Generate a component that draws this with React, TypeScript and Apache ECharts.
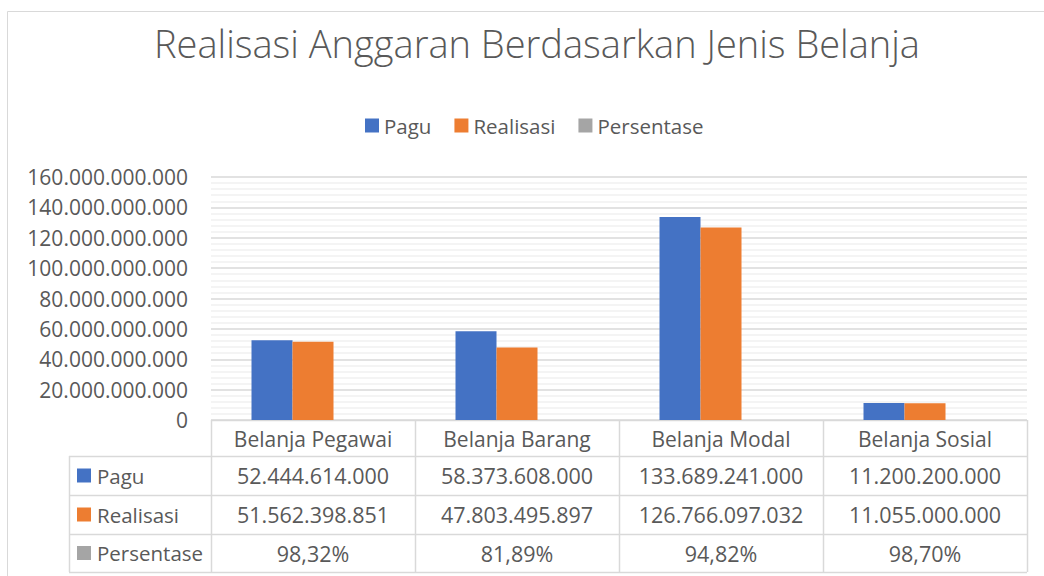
import React, { useEffect, useRef } from "react";
import * as echarts from "echarts";

const categories = ["Belanja Pegawai", "Belanja Barang", "Belanja Modal", "Belanja Sosial"];
const seriesNames = ["Pagu", "Realisasi", "Persentase"];
const pagu = [52444614000, 58373608000, 133689241000, 11200200000];
const realisasi = [51562398851, 47803495897, 126766097032, 11055000000];
const persentase = [0.9832, 0.8189, 0.9482, 0.987];
const colors = ["#4472C4", "#ED7D31", "#A5A5A5"];
const yMin = 0;
const yMax = 160000000000;
const yInterval = 20000000000;

const FONT = "'Open Sans', sans-serif";
const TEXT = "#595959";
const LINE = "#d9d9d9";

const GRID_LEFT = 211;
const GRID_TOP = 177;
const GRID_W = 816;
const GRID_H = 243;
const ROW_Y = [420, 456, 495, 534, 572];
const ROW_LEFT = 69;

function fmtNum(v: number): string {
  return Math.round(v).toString().replace(/\B(?=(\d{3})+(?!\d))/g, ".");
}
function fmtPct(v: number): string {
  return (v * 100).toFixed(2).replace(".", ",") + "%";
}

export default function App() {
  const ref = useRef<HTMLDivElement>(null);
  useEffect(() => {
    if (!ref.current) return;
    const chart = echarts.init(ref.current, undefined, { renderer: "svg" });
    const colW = GRID_W / categories.length;
    const g: any[] = [];
    g.push({
      type: "rect",
      shape: { x: 7.5, y: 11.5, width: 1200, height: 800 },
      style: { fill: "none", stroke: LINE, lineWidth: 1 },
      silent: true,
    });
    for (let r = 1; r < ROW_Y.length; r++) {
      g.push({
        type: "line",
        shape: { x1: ROW_LEFT, y1: ROW_Y[r] + 0.5, x2: GRID_LEFT + GRID_W, y2: ROW_Y[r] + 0.5 },
        style: { stroke: LINE, lineWidth: 1.5 },
        silent: true,
      });
    }
    g.push({
      type: "line",
      shape: { x1: GRID_LEFT, y1: ROW_Y[0] + 0.5, x2: GRID_LEFT + GRID_W, y2: ROW_Y[0] + 0.5 },
      style: { stroke: LINE, lineWidth: 1.5 },
      silent: true,
    });
    g.push({
      type: "line",
      shape: { x1: ROW_LEFT + 0.5, y1: ROW_Y[1], x2: ROW_LEFT + 0.5, y2: ROW_Y[4] },
      style: { stroke: LINE, lineWidth: 1.5 },
      silent: true,
    });
    for (let i = 0; i <= categories.length; i++) {
      const x = Math.round(GRID_LEFT + i * colW) + 0.5;
      g.push({
        type: "line",
        shape: { x1: x, y1: ROW_Y[0], x2: x, y2: ROW_Y[4] },
        style: { stroke: LINE, lineWidth: 1.5 },
        silent: true,
      });
    }
    const rowsData = [pagu.map(fmtNum), realisasi.map(fmtNum), persentase.map(fmtPct)];
    categories.forEach((c, i) => {
      const cx = GRID_LEFT + (i + 0.5) * colW;
      g.push({
        type: "text",
        x: cx,
        y: (ROW_Y[0] + ROW_Y[1]) / 2 + 1,
        style: { text: c, fill: TEXT, font: `21px ${FONT}`, align: "center", verticalAlign: "middle" },
        silent: true,
      });
      rowsData.forEach((row, r) => {
        g.push({
          type: "text",
          x: cx,
          y: (ROW_Y[r + 1] + ROW_Y[r + 2]) / 2,
          style: { text: row[i], fill: TEXT, font: `21.5px ${FONT}`, align: "center", verticalAlign: "middle" },
          silent: true,
        });
      });
    });
    seriesNames.forEach((n, r) => {
      const cy = (ROW_Y[r + 1] + ROW_Y[r + 2]) / 2;
      g.push({
        type: "rect",
        shape: { x: 77, y: cy - 7, width: 14, height: 14 },
        style: { fill: colors[r] },
        silent: true,
      });
      g.push({
        type: "text",
        x: 97,
        y: cy,
        style: { text: n, fill: TEXT, font: `20.5px ${FONT}`, align: "left", verticalAlign: "middle" },
        silent: true,
      });
    });

    chart.setOption({
      animation: false,
      color: colors,
      title: {
        text: "Realisasi Anggaran Berdasarkan Jenis Belanja",
        left: 149,
        top: 19,
        textStyle: { fontFamily: FONT, fontWeight: 300, fontSize: 38, color: TEXT },
      },
      legend: {
        data: seriesNames,
        left: 360,
        top: 110,
        icon: "rect",
        itemWidth: 14,
        itemHeight: 14,
        itemGap: 23,
        textStyle: { fontFamily: FONT, fontSize: 20.5, color: TEXT },
      },
      grid: { left: GRID_LEFT, top: GRID_TOP, width: GRID_W, height: GRID_H, containLabel: false },
      xAxis: {
        type: "category",
        data: categories,
        axisLine: { show: false },
        axisTick: { show: false },
        axisLabel: { show: false },
        splitLine: { show: false },
      },
      yAxis: {
        type: "value",
        min: yMin,
        max: yMax,
        interval: yInterval,
        axisLine: { show: false },
        axisTick: { show: false },
        axisLabel: {
          formatter: (v: number) => fmtNum(v),
          fontFamily: FONT,
          fontSize: 21,
          color: TEXT,
          margin: 23,
        },
        splitLine: { show: true, lineStyle: { color: LINE, width: 1.5 } },
        minorTick: { show: false, splitNumber: 5 },
        minorSplitLine: { show: true, lineStyle: { color: "#f0f0f0", width: 1.5 } },
      },
      series: [
        { name: seriesNames[0], type: "bar", data: pagu, barWidth: 41, barGap: "0%" },
        { name: seriesNames[1], type: "bar", data: realisasi, barWidth: 41, barGap: "0%" },
        { name: seriesNames[2], type: "bar", data: persentase, barWidth: 41, barGap: "0%" },
      ],
      graphic: { elements: g },
    });
    return () => chart.dispose();
  }, []);
  return <div ref={ref} style={{ position: "fixed", left: 0, top: 0, width: 1044, height: 576, background: "#fff" }} />;
}
